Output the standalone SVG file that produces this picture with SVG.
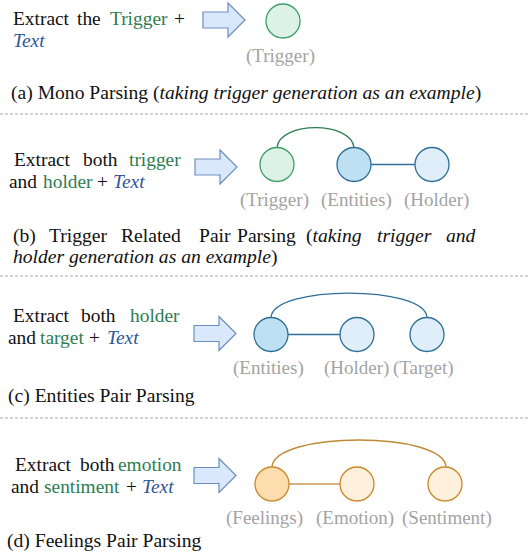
<svg xmlns="http://www.w3.org/2000/svg" width="529" height="553" viewBox="0 0 529 553">
  <style>
    text { font-family: "Liberation Serif", "Times New Roman", serif; font-size: 19.4px; fill: #111; }
    .cap { font-size: 19.6px; }
    .g { fill: #2e7d52; }
    .t { fill: #2f5597; font-style: italic; }
    .i { font-style: italic; }
    .lbl { fill: #a3a3a3; font-size: 19px; }
    .sep { stroke: #a6a6a6; stroke-width: 1; stroke-dasharray: 3 2; fill: none; }
    .trg { fill: #dcf2e6; stroke: #3e9e69; stroke-width: 1.3; }
    .ent { fill: #bde0f3; stroke: #2d6f96; stroke-width: 1.3; }
    .sub { fill: #dfeef9; stroke: #2d6f96; stroke-width: 1.3; }
    .fel { fill: #fddcad; stroke: #c8882a; stroke-width: 1.3; }
    .emo { fill: #fff0dd; stroke: #c8882a; stroke-width: 1.3; }
    .arc-g { fill: none; stroke: #2e7d52; stroke-width: 1.3; }
    .arc-b { fill: none; stroke: #2d6f96; stroke-width: 1.3; }
    .arc-o { fill: none; stroke: #bf8a35; stroke-width: 1.3; }
    .ln-b { stroke: #2d6f96; stroke-width: 1.5; }
    .ln-o { stroke: #d7b27d; stroke-width: 2; }
  </style>
  <defs>
    <polygon id="blockArrow" points="0,-8 25,-8 25,-17 42,0 25,17 25,8 0,8" fill="#dae8fc" stroke="#6c8ebf" stroke-width="1.2" stroke-linejoin="miter"/>
  </defs>

  <!-- separators -->
  <g id="separators">
    <line class="sep" x1="0" y1="114" x2="529" y2="114"/>
    <line class="sep" x1="0" y1="276" x2="529" y2="276"/>
    <line class="sep" x1="0" y1="418" x2="529" y2="418"/>
  </g>

  <!-- (a) Mono Parsing -->
  <g id="prompt-a">
    <text y="25"><tspan x="13">Extract</tspan><tspan x="77">the</tspan><tspan x="110" class="g">Trigger</tspan><tspan x="174">+</tspan></text>
    <text y="47" x="13" class="t">Text</text>
  </g>
  <use id="arrow-a" href="#blockArrow" transform="translate(203,20)"/>
  <g id="node-a-trigger">
    <circle class="trg" cx="283" cy="21" r="17"/>
    <text class="lbl" x="246" y="62">(Trigger)</text>
  </g>
  <text id="caption-a" class="cap" x="11" y="99">(a) Mono Parsing (<tspan class="i">taking trigger generation as an example</tspan>)</text>

  <!-- (b) Trigger Related Pair Parsing -->
  <g id="prompt-b">
    <text y="166"><tspan x="14">Extract</tspan><tspan x="83">both</tspan><tspan x="129" class="g">trigger</tspan></text>
    <text y="188"><tspan x="9">and</tspan><tspan x="43" class="g">holder</tspan><tspan x="97">+</tspan><tspan x="113" class="t">Text</tspan></text>
  </g>
  <use id="arrow-b" href="#blockArrow" transform="translate(195,167)"/>
  <g id="connectors-b">
    <path class="arc-g" d="M277 147.5 C280 121, 351 121, 354 147.5"/>
    <line class="ln-b" x1="371" y1="164.5" x2="415" y2="164.5"/>
  </g>
  <g id="node-b-trigger">
    <circle class="trg" cx="277" cy="164.5" r="17"/>
    <text class="lbl" x="240" y="206">(Trigger)</text>
  </g>
  <g id="node-b-entities">
    <circle class="ent" cx="354" cy="164.5" r="17"/>
    <text class="lbl" x="321" y="206">(Entities)</text>
  </g>
  <g id="node-b-holder">
    <circle class="sub" cx="432" cy="164.5" r="17"/>
    <text class="lbl" x="404" y="206">(Holder)</text>
  </g>
  <g id="caption-b" class="cap">
    <text class="cap" y="242"><tspan x="13">(b)</tspan><tspan x="49">Trigger</tspan><tspan x="121">Related</tspan><tspan x="199">Pair</tspan><tspan x="237">Parsing</tspan><tspan x="306">(</tspan><tspan class="i">taking</tspan><tspan x="377" class="i">trigger</tspan><tspan x="446" class="i">and</tspan></text>
    <text class="cap" y="263" x="13"><tspan class="i">holder generation as an example</tspan>)</text>
  </g>

  <!-- (c) Entities Pair Parsing -->
  <g id="prompt-c">
    <text y="322"><tspan x="13">Extract</tspan><tspan x="81">both</tspan><tspan x="130" class="g">holder</tspan></text>
    <text y="344"><tspan x="8">and</tspan><tspan x="40" class="g">target</tspan><tspan x="89">+</tspan><tspan x="107" class="t">Text</tspan></text>
  </g>
  <use id="arrow-c" href="#blockArrow" transform="translate(194,333.5)"/>
  <g id="connectors-c">
    <path class="arc-b" d="M271 317.5 C273 285, 425 285, 427 317.5"/>
    <line class="ln-b" x1="288" y1="334.5" x2="340" y2="334.5"/>
  </g>
  <g id="node-c-entities">
    <circle class="ent" cx="271" cy="334.5" r="17"/>
    <text class="lbl" x="233" y="374">(Entities)</text>
  </g>
  <g id="node-c-holder">
    <circle class="sub" cx="357" cy="334.5" r="17"/>
    <text class="lbl" x="324" y="374">(Holder)</text>
  </g>
  <g id="node-c-target">
    <circle class="sub" cx="427" cy="334.5" r="17"/>
    <text class="lbl" x="393" y="374">(Target)</text>
  </g>
  <text id="caption-c" class="cap" x="8" y="402">(c) Entities Pair Parsing</text>

  <!-- (d) Feelings Pair Parsing -->
  <g id="prompt-d">
    <text y="471"><tspan x="15">Extract</tspan><tspan x="80">both</tspan><tspan x="118" class="g">emotion</tspan></text>
    <text y="493"><tspan x="11">and</tspan><tspan x="44" class="g">sentiment</tspan><tspan x="126">+</tspan><tspan x="142" class="t">Text</tspan></text>
  </g>
  <use id="arrow-d" href="#blockArrow" transform="translate(194,475.5)"/>
  <g id="connectors-d">
    <path class="arc-o" d="M272 467 C274 431, 444 431, 446 467"/>
    <line class="ln-o" x1="289" y1="484" x2="340" y2="484"/>
  </g>
  <g id="node-d-feelings">
    <circle class="fel" cx="272" cy="484" r="17"/>
    <text class="lbl" x="226" y="524">(Feelings)</text>
  </g>
  <g id="node-d-emotion">
    <circle class="emo" cx="357" cy="484" r="17"/>
    <text class="lbl" x="316" y="524">(Emotion)</text>
  </g>
  <g id="node-d-sentiment">
    <circle class="emo" cx="445" cy="484" r="17"/>
    <text class="lbl" x="402" y="524">(Sentiment)</text>
  </g>
  <text id="caption-d" class="cap" x="7" y="547">(d) Feelings Pair Parsing</text>
</svg>
